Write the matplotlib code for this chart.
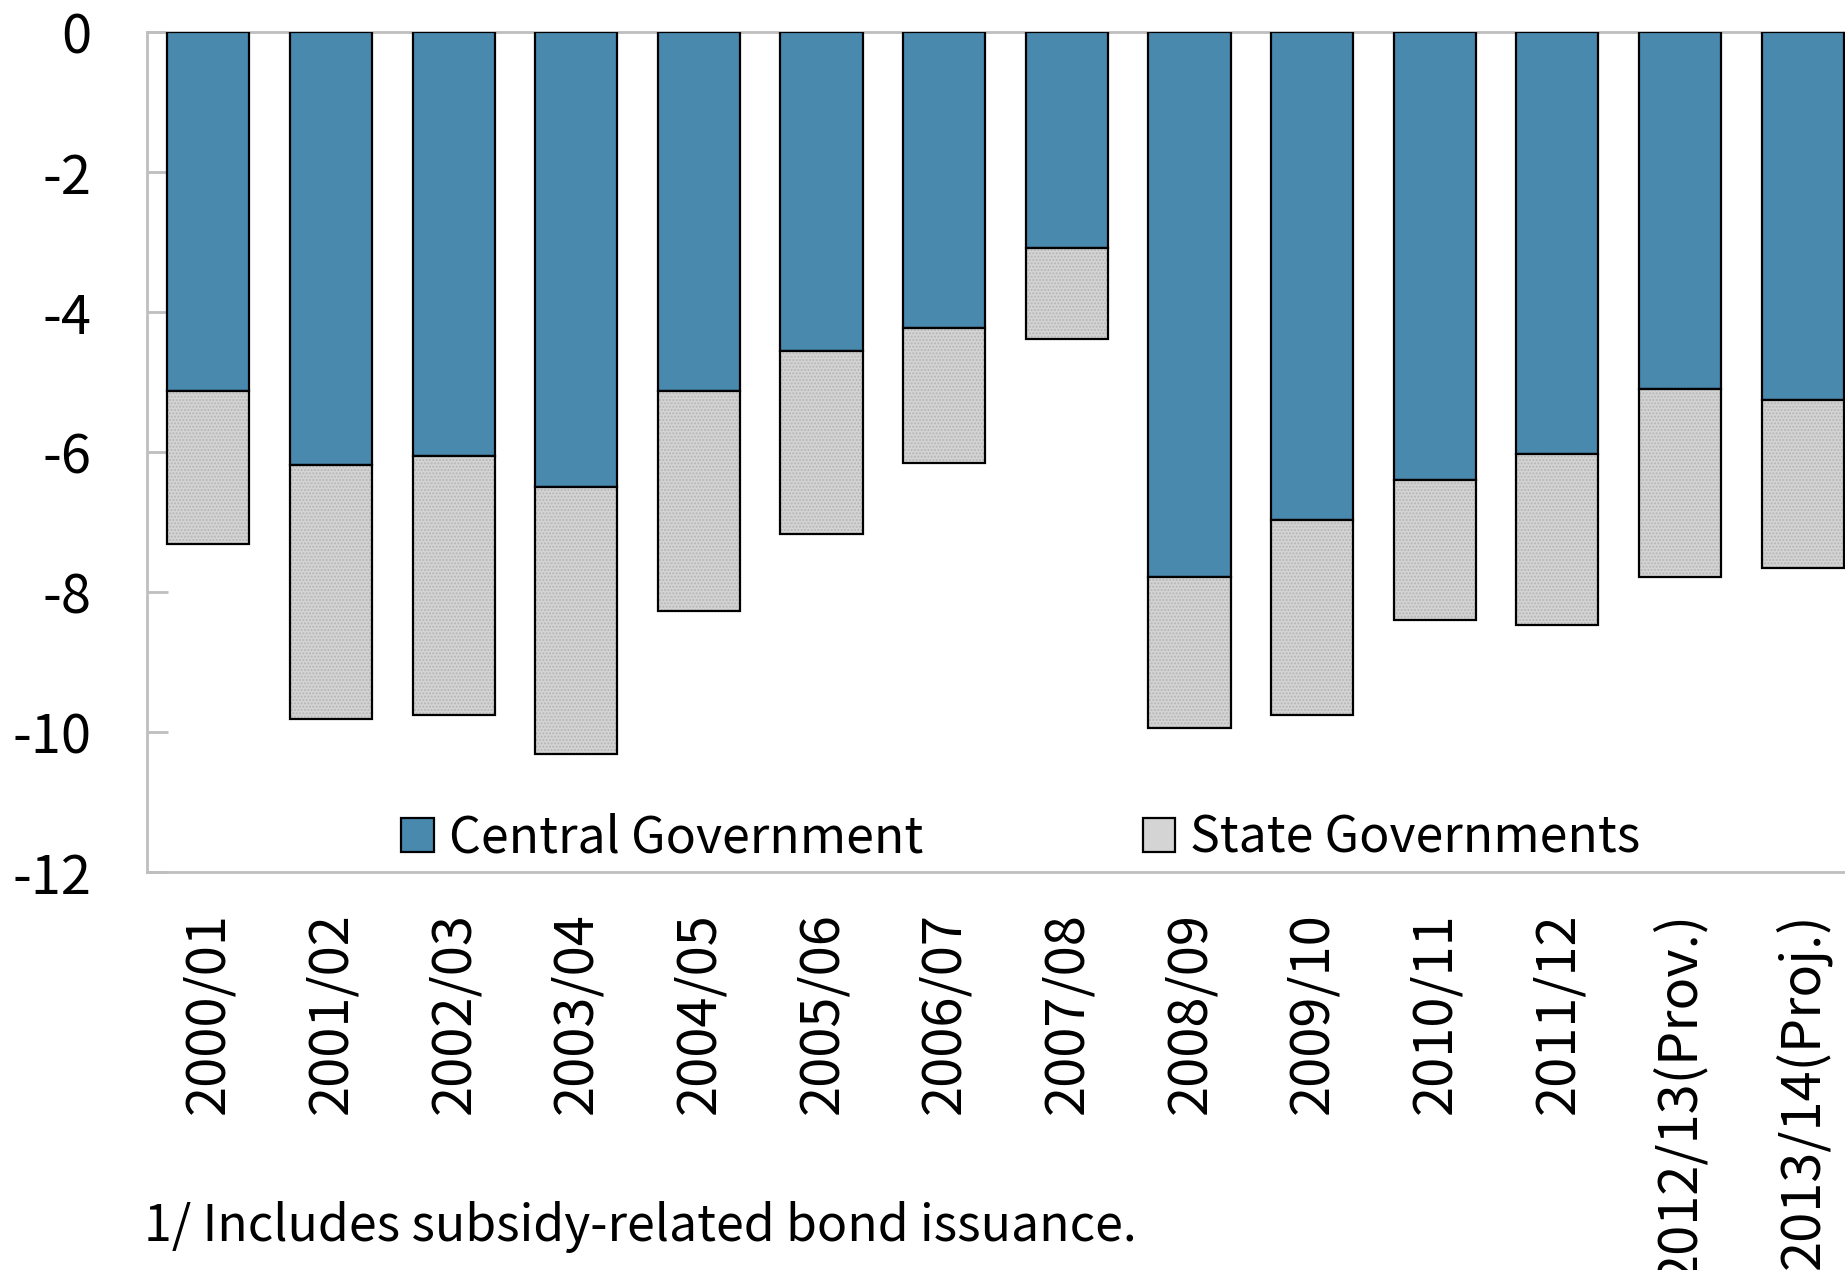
import numpy as np
import matplotlib.pyplot as plt

plt.rcParams['font.family'] = ['Noto Sans CJK TC', 'DejaVu Sans']

# Datos (porcentaje del PIB)
years = ['2000/01', '2001/02', '2002/03', '2003/04', '2004/05', '2005/06',
         '2006/07', '2007/08', '2008/09', '2009/10', '2010/11', '2011/12',
         '2012/13(Prov.)', '2013/14(Proj.)']
central = [-5.13, -6.19, -6.06, -6.50, -5.13, -4.56, -4.23, -3.08,
           -7.79, -6.97, -6.40, -6.03, -5.10, -5.25]
total = [-7.31, -9.81, -9.75, -10.32, -8.27, -7.17, -6.16, -4.39,
         -9.95, -9.75, -8.40, -8.47, -7.79, -7.66]
state = [t - c for t, c in zip(total, central)]

blue = '#4a89ae'
gray = '#d4d4d4'
axis_gray = '#bfbfbf'
fs = 36      # leyenda y nota
fs_tick = 39  # etiquetas de los ejes

fig = plt.figure(figsize=(18.45, 12.7), dpi=100)
ax = fig.add_axes([147 / 1845, 1 - 872 / 1270, 1717 / 1845, 840 / 1270])

x = np.arange(len(years))
w = 0.67

ax.bar(x, central, w, color=blue, edgecolor='black', linewidth=1.6,
       label='Central Government', zorder=3)
# relleno punteado y luego el borde negro
ax.bar(x, state, w, bottom=central, color=gray, edgecolor='#b5b5b5',
       linewidth=0, hatch='.....', zorder=3)
ax.bar(x, state, w, bottom=central, facecolor='none', edgecolor='black',
       linewidth=1.6, zorder=4)

# handles para la leyenda
state_handle = plt.Rectangle((0, 0), 1, 1, facecolor=gray, edgecolor='black',
                             linewidth=1.6)
central_handle = plt.Rectangle((0, 0), 1, 1, facecolor=blue, edgecolor='black',
                               linewidth=1.6)

ax.set_xlim(-0.5, 13.5)
ax.set_ylim(-12, 0)
ax.set_yticks(np.arange(-12, 1, 2))
ax.set_yticklabels([str(v) for v in range(-12, 1, 2)], fontsize=fs_tick)
ax.tick_params(axis='y', direction='in', length=15, width=2, color=axis_gray,
               pad=40)
ax.set_xticks(x)
ax.set_xticklabels(years, rotation=90, fontsize=fs_tick, va='top', ha='center')
ax.tick_params(axis='x', length=0, pad=29)

for s in ax.spines.values():
    s.set_color(axis_gray)
    s.set_linewidth(2)

leg = ax.legend([central_handle, state_handle],
                ['Central Government', 'State Governments'],
                ncol=2, frameon=False, fontsize=fs, loc='center left',
                bbox_to_anchor=(0.148, 0.04), borderaxespad=0, borderpad=0,
                handlelength=0.65, handleheight=0.65, handletextpad=0.3,
                columnspacing=4.4)

fig.text(144 / 1845, 1 - 1227 / 1270, '1/ Includes subsidy-related bond issuance.',
         fontsize=fs, va='center', ha='left')

fig.savefig('out.png', dpi=100)
